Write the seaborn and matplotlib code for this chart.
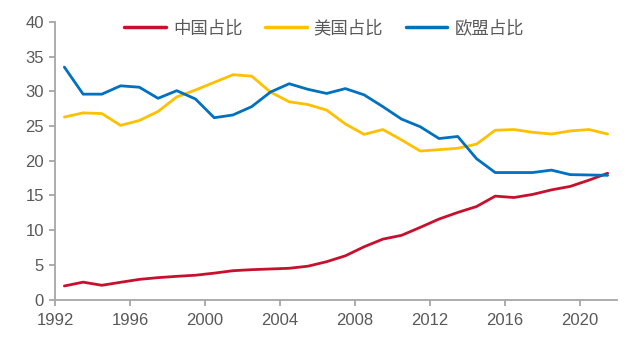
import matplotlib
matplotlib.use("Agg")
import matplotlib.pyplot as plt
import seaborn as sns
import pandas as pd

years = list(range(1992, 2022))
china = [1.95, 2.5, 2.05, 2.48, 2.9, 3.15, 3.34, 3.5, 3.8, 4.15, 4.3, 4.4, 4.5, 4.8, 5.45,
         6.3, 7.6, 8.7, 9.25, 10.4, 11.6, 12.55, 13.4, 14.9, 14.7, 15.15, 15.8, 16.3, 17.2, 18.2]
usa = [26.3, 26.9, 26.8, 25.1, 25.8, 27.1, 29.2, 30.2, 31.3, 32.4, 32.2, 29.9, 28.5, 28.1, 27.3,
       25.3, 23.8, 24.5, 23.0, 21.4, 21.6, 21.8, 22.4, 24.4, 24.5, 24.1, 23.85, 24.3, 24.5, 23.85]
eu = [33.5, 29.6, 29.6, 30.8, 30.6, 29.0, 30.1, 28.9, 26.2, 26.6, 27.8, 29.9, 31.1, 30.3, 29.7,
      30.4, 29.5, 27.8, 26.0, 24.9, 23.2, 23.5, 20.3, 18.3, 18.3, 18.3, 18.65, 18.0, 17.95, 17.9]
series_names = ["中国占比", "美国占比", "欧盟占比"]
xticks = list(range(1992, 2021, 4))
yticks = list(range(0, 41, 5))

sns.set_style("ticks")
plt.rcParams["font.family"] = ["Liberation Sans", "Noto Sans CJK SC", "DejaVu Sans"]

df = pd.concat([
    pd.DataFrame({"year": years, "value": vals, "series": name})
    for name, vals in zip(series_names, [china, usa, eu])
])
df["xpos"] = df["year"] + 0.5  # values plotted at mid-year

fig = plt.figure(figsize=(6.4, 3.45), dpi=100)
ax = fig.add_axes([55 / 640, 1 - 299.5 / 345, 562 / 640, 277.5 / 345])

palette = {"中国占比": "#C8102E", "美国占比": "#FFC000", "欧盟占比": "#0070C0"}
sns.lineplot(data=df, x="xpos", y="value", hue="series", hue_order=series_names,
             palette=palette, linewidth=2.0, ax=ax)

ax.set_xlim(1992, 2022)
ax.set_ylim(0, 40)
ax.set_xticks(xticks)
ax.set_xticklabels([str(t) for t in xticks])
ax.set_yticks(yticks)
ax.set_xlabel("")
ax.set_ylabel("")

for side in ["top", "right"]:
    ax.spines[side].set_visible(False)
for side in ["left", "bottom"]:
    ax.spines[side].set_color("#A6A6A6")
    ax.spines[side].set_linewidth(1.3)
ax.tick_params(axis="both", colors="#A6A6A6", length=4, width=1.3, labelsize=12,
               labelcolor="#595959", direction="out")
ax.tick_params(axis="x", pad=6)
ax.tick_params(axis="y", pad=4)

leg = ax.legend(loc="center", bbox_to_anchor=(0.479, 0.977), ncol=3, frameon=False,
                fontsize=12, handlelength=2.4, handletextpad=0.4, columnspacing=1.3,
                prop={"family": ["Noto Sans CJK SC", "DejaVu Sans"], "size": 12.5})
for t in leg.get_texts():
    t.set_color("#595959")
for h in leg.get_lines():
    h.set_linewidth(2.5)

fig.savefig("out.png", dpi=100)
